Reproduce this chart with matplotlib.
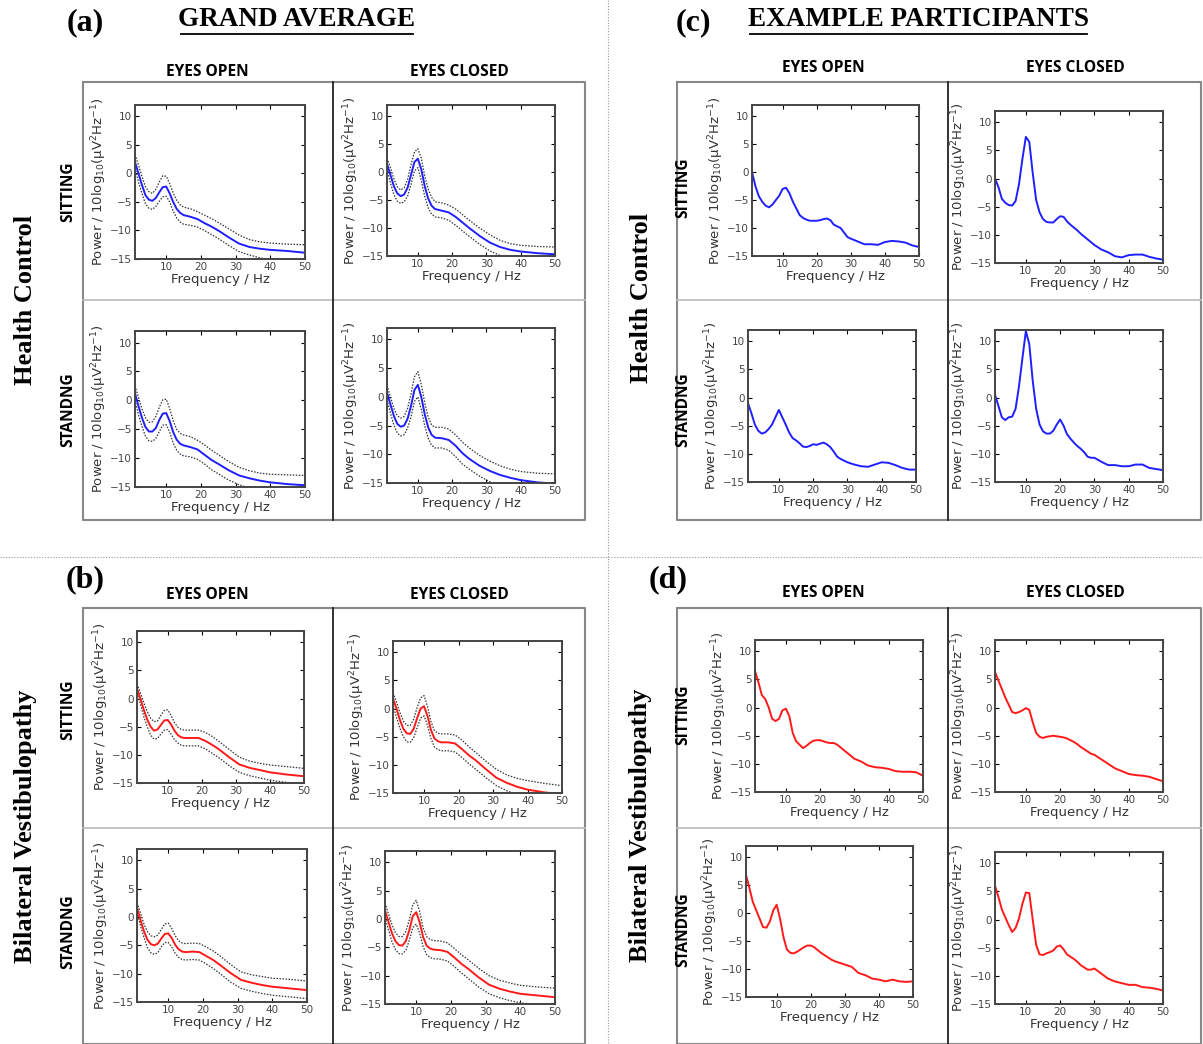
from matplotlib import pyplot as plt
from matplotlib.lines import Line2D
import numpy as np

# frequency grids (Hz)
FREQ_AVG = [1, 2, 3, 4, 5, 6, 7, 8, 9, 10, 11, 12, 13, 14, 15, 17, 19, 21, 23, 25, 28, 31, 34, 37, 40, 45, 50]
FREQ_EX = [1, 2, 3, 4, 5, 6, 7, 8, 9, 10, 11, 12, 13, 14, 15, 16, 17, 18, 19, 20,
           21, 22, 23, 24, 25, 26, 27, 28, 29, 30, 32, 34, 36, 38, 40, 42, 44, 46, 48, 50]

# (a) grand average, health control : mean / upper / lower
A_SIT_EO = [2, 0, -2, -3.8, -4.6, -4.8, -4.3, -3.3, -2.4, -2.3, -3.5, -5, -6.2, -6.9, -7.3, -7.6, -8, -8.7, -9.3, -10, -11.2, -12.3, -12.9, -13.2, -13.4, -13.6, -13.9]
A_SIT_EO_UP = [3.3, 1.5, -0.5, -2.3, -3.2, -3.5, -2.8, -1.5, -0.4, -0.5, -1.8, -3.4, -4.7, -5.5, -5.9, -6.2, -6.7, -7.3, -7.9, -8.6, -9.7, -10.8, -11.6, -12, -12.2, -12.4, -12.5]
A_SIT_EO_LO = [1, -1.5, -3.5, -5.3, -6.1, -6.3, -5.8, -4.9, -4.1, -4, -5, -6.6, -7.8, -8.5, -8.9, -9.1, -9.4, -10, -10.7, -11.4, -12.6, -13.7, -14.3, -14.8, -15.1, -15.5, -15.8]

A_SIT_EC = [1.5, -0.5, -2.5, -3.8, -4.3, -4, -2.8, -0.5, 1.8, 2.4, 0.5, -2.5, -4.7, -6, -6.6, -6.9, -7.2, -8, -9, -10, -11.4, -12.6, -13.4, -13.9, -14.2, -14.5, -14.7]
A_SIT_EC_UP = [2.5, 0.8, -1.2, -2.6, -3.2, -2.8, -1.3, 1.3, 3.6, 4.2, 2.5, -0.7, -3, -4.5, -5.3, -5.5, -5.9, -6.6, -7.6, -8.6, -10, -11.2, -12.2, -12.8, -13.1, -13.3, -13.4]
A_SIT_EC_LO = [0.5, -1.9, -4, -5.2, -5.6, -5.3, -4.3, -2.2, 0.2, 0.8, -1.5, -4.3, -6.4, -7.5, -8, -8.2, -8.6, -9.5, -10.5, -11.5, -12.9, -14.1, -14.9, -15.5, -15.8, -16, -16.2]

A_STD_EO = [1.2, -1, -3, -4.6, -5.4, -5.4, -4.8, -3.4, -2.3, -2.2, -3.6, -5.5, -6.8, -7.5, -7.8, -8.1, -8.5, -9.4, -10.3, -11, -12.1, -13, -13.5, -13.9, -14.2, -14.5, -14.7]
A_STD_EO_UP = [2.5, 0.5, -1.5, -3, -3.8, -3.7, -2.8, -1.2, 0.1, 0.2, -1.4, -3.5, -5, -5.7, -6, -6.3, -6.9, -7.7, -8.6, -9.4, -10.6, -11.6, -12.2, -12.6, -12.8, -12.9, -13]
A_STD_EO_LO = [0, -2.5, -4.5, -6.2, -7, -7.1, -6.6, -5.4, -4.3, -4.2, -5.5, -7.4, -8.6, -9.3, -9.6, -9.8, -10.2, -11, -12, -12.7, -13.8, -14.6, -15.2, -15.6, -15.9, -16.2, -16.4]

A_STD_EC = [0.8, -1.3, -3.3, -4.7, -5.2, -5, -3.8, -1.6, 1.2, 2.1, 0, -3, -5.3, -6.6, -7.1, -7.2, -7.5, -8.5, -9.8, -10.8, -12, -12.9, -13.6, -14.1, -14.5, -14.9, -15.1]
A_STD_EC_UP = [2, 0, -2, -3.3, -3.7, -3.4, -2, 0.5, 3.5, 4.4, 2.2, -1, -3.5, -4.9, -5.3, -5.3, -5.6, -6.6, -7.9, -8.9, -10.2, -11.2, -12, -12.6, -13, -13.3, -13.4]
A_STD_EC_LO = [-0.5, -2.8, -4.9, -6.3, -6.8, -6.6, -5.4, -3.5, -0.8, 0, -2.2, -5, -7.2, -8.4, -8.9, -8.9, -9.3, -10.4, -11.7, -12.6, -13.8, -14.8, -15.4, -15.8, -16.1, -16.4, -16.6]

# (b) grand average, bilateral vestibulopathy
B_SIT_EO = [1.8, 0, -2, -3.7, -5, -5.7, -5.5, -4.7, -3.9, -3.8, -4.6, -5.7, -6.5, -6.9, -7, -7, -7, -7.5, -8.2, -9, -10.4, -11.7, -12.3, -12.7, -13.1, -13.5, -13.8]
B_SIT_EO_UP = [2.6, 1, -0.7, -2.3, -3.5, -4.1, -4, -3, -2.1, -2, -3, -4.3, -5.1, -5.5, -5.6, -5.6, -5.6, -6, -6.7, -7.6, -9, -10.4, -11.1, -11.5, -11.8, -12.1, -12.4]
B_SIT_EO_LO = [1, -1, -3.2, -5, -6.5, -7.2, -7.1, -6.3, -5.6, -5.5, -6.3, -7.3, -7.9, -8.3, -8.4, -8.4, -8.4, -8.9, -9.7, -10.5, -11.9, -13.1, -13.7, -14.1, -14.5, -14.9, -15.2]

B_SIT_EC = [1.8, 0, -2, -3.6, -4.4, -4.5, -3.6, -1.7, 0, 0.4, -1.3, -3.8, -5.3, -5.8, -6, -6, -6.2, -7.2, -8.3, -9.2, -10.8, -12.3, -13.2, -13.9, -14.4, -14.9, -15.2]
B_SIT_EC_UP = [2.8, 1.2, -0.7, -2.2, -3, -3, -1.9, 0.2, 1.9, 2.3, 0.4, -2.3, -3.9, -4.4, -4.5, -4.5, -4.7, -5.6, -6.8, -7.8, -9.4, -10.8, -11.8, -12.4, -12.8, -13.3, -13.7]
B_SIT_EC_LO = [0.5, -1.5, -3.5, -5, -5.9, -6, -5.2, -3.4, -1.7, -1.3, -3, -5.3, -6.8, -7.3, -7.5, -7.5, -7.7, -8.7, -9.8, -10.8, -12.3, -13.7, -14.6, -15.3, -15.7, -16.1, -16.4]

B_STD_EO = [1.7, -0.5, -2.5, -4, -4.8, -5, -4.7, -3.8, -3, -2.9, -3.7, -4.9, -5.7, -6.1, -6.2, -6.1, -6.2, -6.9, -7.6, -8.5, -9.9, -11.1, -11.6, -12, -12.3, -12.6, -12.9]
B_STD_EO_UP = [2.5, 0.7, -1.2, -2.6, -3.3, -3.5, -3.2, -2.2, -1.2, -1.1, -2, -3.3, -4.2, -4.6, -4.7, -4.6, -4.7, -5.3, -6, -6.9, -8.4, -9.7, -10.2, -10.5, -10.8, -11, -11.3]
B_STD_EO_LO = [0.8, -1.5, -3.6, -5.4, -6.3, -6.6, -6.3, -5.3, -4.5, -4.5, -5.3, -6.4, -7.1, -7.5, -7.6, -7.5, -7.6, -8.3, -9.1, -10, -11.5, -12.6, -13.1, -13.5, -13.8, -14.1, -14.4]

B_STD_EC = [1.5, -0.5, -2.5, -3.9, -4.6, -4.7, -3.9, -2, 0.5, 1.2, -0.6, -3.2, -4.7, -5.2, -5.4, -5.5, -5.8, -6.8, -7.9, -8.8, -10.3, -11.6, -12.3, -12.8, -13.2, -13.5, -13.8]
B_STD_EC_UP = [2.8, 0.9, -1, -2.4, -3.1, -3.1, -2.2, -0.2, 2.5, 3.3, 1.3, -1.6, -3.1, -3.6, -3.8, -3.9, -4.2, -5.2, -6.3, -7.2, -8.7, -10, -10.8, -11.3, -11.7, -12, -12.2]
B_STD_EC_LO = [0.3, -1.9, -4, -5.4, -6.1, -6.2, -5.5, -3.8, -1.5, -0.9, -2.5, -4.9, -6.3, -6.8, -7, -7.1, -7.4, -8.4, -9.5, -10.5, -12, -13.2, -13.9, -14.4, -14.8, -15.1, -15.4]

# (c) example participant, health control
C_SIT_EO = [0, -2.5, -4.3, -5.3, -6, -6.3, -5.8, -5, -4.2, -3, -2.8, -3.8, -5.3, -6.5, -7.7, -8.2, -8.5, -8.7, -8.7, -8.7,
            -8.6, -8.4, -8.3, -8.6, -9.4, -9.7, -10, -10.8, -11.6, -11.9, -12.4, -12.9, -12.9, -13, -12.5, -12.3, -12.4, -12.6, -13.1, -13.4]
C_SIT_EC = [0, -1.5, -3.6, -4.3, -4.7, -4.8, -4, -1, 3.5, 7.4, 6.5, 1, -3.8, -6, -7.2, -7.7, -7.8, -7.8, -7.2, -6.7,
            -6.8, -7.6, -8.2, -8.7, -9.2, -9.8, -10.3, -10.8, -11.3, -11.8, -12.6, -13.1, -13.8, -14, -13.6, -13.5, -13.5, -13.9, -14.2, -14.4]
C_STD_EO = [-1, -2.8, -4.8, -5.9, -6.4, -6.2, -5.6, -4.8, -3.5, -2.2, -3.5, -4.8, -6.2, -7.2, -7.6, -8.1, -8.7, -8.8, -8.6, -8.3,
            -8.4, -8.2, -8, -8.3, -8.8, -9.6, -10.5, -10.9, -11.2, -11.5, -11.9, -12.2, -12.3, -11.9, -11.5, -11.6, -12, -12.5, -12.8, -12.8]
C_STD_EC = [0.5, -1.5, -3.5, -4, -3.5, -3.4, -2, 2, 7, 11.8, 9.5, 3, -2, -4.8, -6, -6.4, -6.4, -5.9, -4.8, -3.9,
            -5, -6.5, -7.3, -8, -8.6, -9.1, -9.7, -10.5, -10.7, -10.7, -11.4, -12, -12, -12.2, -12.2, -11.9, -11.9, -12.5, -12.7, -12.9]

# (d) example participant, bilateral vestibulopathy
D_SIT_EO = [6.5, 4.5, 2.2, 1.5, 0, -2, -2.4, -2, -0.5, -0.2, -1.5, -4.5, -6, -6.6, -7.2, -6.8, -6.3, -5.9, -5.8, -5.8,
            -6, -6.2, -6.3, -6.3, -6.6, -7.1, -7.6, -8.1, -8.6, -9.1, -9.6, -10.3, -10.6, -10.7, -10.9, -11.3, -11.4, -11.4, -11.5, -12.1]
D_SIT_EC = [6.3, 4.8, 3.3, 1.8, 0.5, -0.8, -1, -0.8, -0.5, -0.1, -0.4, -2.6, -4.5, -5.2, -5.4, -5.2, -5.1, -5, -5.1, -5.2,
            -5.3, -5.5, -5.8, -6.1, -6.5, -7, -7.4, -7.8, -8.2, -8.4, -9.2, -10, -10.8, -11.3, -11.8, -12, -12.1, -12.3, -12.7, -13.1]
D_STD_EO = [6.8, 4.5, 2, 0.5, -1, -2.5, -2.6, -1.5, 0.5, 1.5, -1, -4.3, -6.5, -7.1, -7.2, -6.9, -6.5, -6.1, -5.8, -5.8,
            -6.1, -6.6, -7.1, -7.5, -7.9, -8.3, -8.6, -8.8, -9, -9.2, -9.6, -10.7, -11.1, -11.7, -11.9, -12.2, -11.9, -12.2, -12.3, -12.2]
D_STD_EC = [6, 4, 1.8, 0.4, -1, -2.2, -1.5, 0.2, 2.8, 4.8, 4.7, 0, -4.5, -6.2, -6.3, -6, -5.8, -5.5, -4.8, -4.6,
            -5.3, -6.2, -6.6, -7, -7.5, -8.1, -8.5, -8.9, -8.9, -8.7, -9.6, -10.5, -11, -11.3, -11.6, -11.6, -12, -12.1, -12.3, -12.6]

BLUE = '#1f1fff'
RED = '#ff1a1a'
W, H = 1203, 1044

fig = plt.figure(figsize=(W / 100, H / 100), dpi=100)
fig.patch.set_facecolor('white')


def px_rect(x0, y0, x1, y1):
    return [x0 / W, 1 - y1 / H, (x1 - x0) / W, (y1 - y0) / H]


def fig_line(xs, ys, **kw):
    fig.add_artist(Line2D([x / W for x in xs], [1 - y / H for y in ys],
                          transform=fig.transFigure, **kw))


def fig_text(x, y, s, **kw):
    fig.text(x / W, 1 - y / H, s, ha='center', va='center', **kw)


def panel(rect, freq, mean, color, up=None, lo=None):
    ax = fig.add_axes(px_rect(*rect))
    if up is not None:
        ax.plot(freq, up, color='#333333', ls=(0, (1.2, 1.2)), lw=0.9)
        ax.plot(freq, lo, color='#333333', ls=(0, (1.2, 1.2)), lw=0.9)
    ax.plot(freq, mean, color=color, lw=1.4)
    ax.set_xlim(1, 50)
    ax.set_ylim(-15, 12)
    ax.set_xticks([10, 20, 30, 40, 50])
    ax.set_yticks([-15, -10, -5, 0, 5, 10])
    ax.tick_params(direction='in', top=True, right=True, length=3, width=0.8,
                   labelsize=7.5, labelcolor='#444444', pad=2)
    for s in ax.spines.values():
        s.set_linewidth(1.4)
        s.set_color('#444444')
    ax.set_xlabel('Frequency / Hz', fontsize=9.5, color='#333333', labelpad=1)
    ax.set_ylabel(r'Power / 10log$_{10}$($\mathregular{\mu}$V$^2$Hz$^{-1}$)', fontsize=9.5,
                  color='#333333', labelpad=1)
    return ax


# grand average panels
panel((135, 105, 305, 259), FREQ_AVG, A_SIT_EO, BLUE, A_SIT_EO_UP, A_SIT_EO_LO)
panel((387, 105, 555, 256), FREQ_AVG, A_SIT_EC, BLUE, A_SIT_EC_UP, A_SIT_EC_LO)
panel((135, 331, 305, 487), FREQ_AVG, A_STD_EO, BLUE, A_STD_EO_UP, A_STD_EO_LO)
panel((387, 328, 555, 483), FREQ_AVG, A_STD_EC, BLUE, A_STD_EC_UP, A_STD_EC_LO)
panel((137, 631, 304, 783), FREQ_AVG, B_SIT_EO, RED, B_SIT_EO_UP, B_SIT_EO_LO)
panel((393, 641, 562, 793), FREQ_AVG, B_SIT_EC, RED, B_SIT_EC_UP, B_SIT_EC_LO)
panel((137, 849, 307, 1002), FREQ_AVG, B_STD_EO, RED, B_STD_EO_UP, B_STD_EO_LO)
panel((385, 851, 555, 1004), FREQ_AVG, B_STD_EC, RED, B_STD_EC_UP, B_STD_EC_LO)

# example participant panels
panel((752, 105, 919, 256), FREQ_EX, C_SIT_EO, BLUE)
panel((995, 111, 1163, 263), FREQ_EX, C_SIT_EC, BLUE)
panel((748, 330, 916, 482), FREQ_EX, C_STD_EO, BLUE)
panel((995, 330, 1163, 482), FREQ_EX, C_STD_EC, BLUE)
panel((755, 640, 923, 792), FREQ_EX, D_SIT_EO, RED)
panel((995, 640, 1163, 792), FREQ_EX, D_SIT_EC, RED)
panel((746, 846, 913, 997), FREQ_EX, D_STD_EO, RED)
panel((995, 852, 1163, 1004), FREQ_EX, D_STD_EC, RED)

# dotted separators
fig_line([0, W], [557, 557], color='#999999', lw=0.8, ls=(0, (1, 1.5)))
fig_line([608, 608], [0, H], color='#999999', lw=0.8, ls=(0, (1, 1.5)))

# grid boxes around the four quadrants
for (x0, x1, xm, y0, y1, ym) in [(83, 585, 333, 82, 520, 300), (83, 585, 333, 608, 1044, 828),
                                 (677, 1201, 948, 82, 520, 300), (677, 1201, 948, 608, 1044, 828)]:
    fig_line([x0, x1, x1, x0, x0], [y0, y0, y1, y1, y0], color='#888888', lw=1.5)
    fig_line([x0, x1], [ym, ym], color='#bbbbbb', lw=1.2)
    fig_line([xm, xm], [y0, y1], color='#222222', lw=1.3)

serif = 'Liberation Serif'
sans = 'Open Sans'

# titles
fig_text(85, 23, '(a)', fontsize=23, fontweight='bold', family=serif)
fig_text(85, 580, '(b)', fontsize=23, fontweight='bold', family=serif)
fig_text(693, 23, '(c)', fontsize=23, fontweight='bold', family=serif)
fig_text(668, 580, '(d)', fontsize=23, fontweight='bold', family=serif)
fig_text(297, 19, 'GRAND AVERAGE', fontsize=19.5, fontweight='bold', family=serif)
fig_line([181, 413], [34, 34], color='black', lw=1.3)
fig_text(918, 19, 'EXAMPLE PARTICIPANTS', fontsize=19.5, fontweight='bold', family=serif)
fig_line([750, 1087], [34, 34], color='black', lw=1.3)

# column headers
for cx_open, cx_closed, cy in [(207, 459, 72), (823, 1075, 68), (207, 459, 595), (823, 1075, 593)]:
    fig_text(cx_open, cy, 'EYES OPEN', fontsize=11.2, fontweight='bold', family=sans)
    fig_text(cx_closed, cy, 'EYES CLOSED', fontsize=11.2, fontweight='bold', family=sans)

# row headers
for rx, ry_sit, ry_std in [(68, 192, 410), (683, 188, 410), (68, 710, 932), (683, 715, 930)]:
    fig_text(rx, ry_sit, 'SITTING', fontsize=11.2, fontweight='bold', family=sans, rotation=90)
    fig_text(rx, ry_std, 'STANDNG', fontsize=11.2, fontweight='bold', family=sans, rotation=90)

# group labels
fig_text(26, 300, 'Health Control', fontsize=19, fontweight='bold', family=serif, rotation=90)
fig_text(641, 298, 'Health Control', fontsize=19, fontweight='bold', family=serif, rotation=90)
fig_text(26, 826, 'Bilateral Vestibulopathy', fontsize=19, fontweight='bold', family=serif, rotation=90)
fig_text(641, 825, 'Bilateral Vestibulopathy', fontsize=19, fontweight='bold', family=serif, rotation=90)

plt.savefig('out.png', dpi=100)
